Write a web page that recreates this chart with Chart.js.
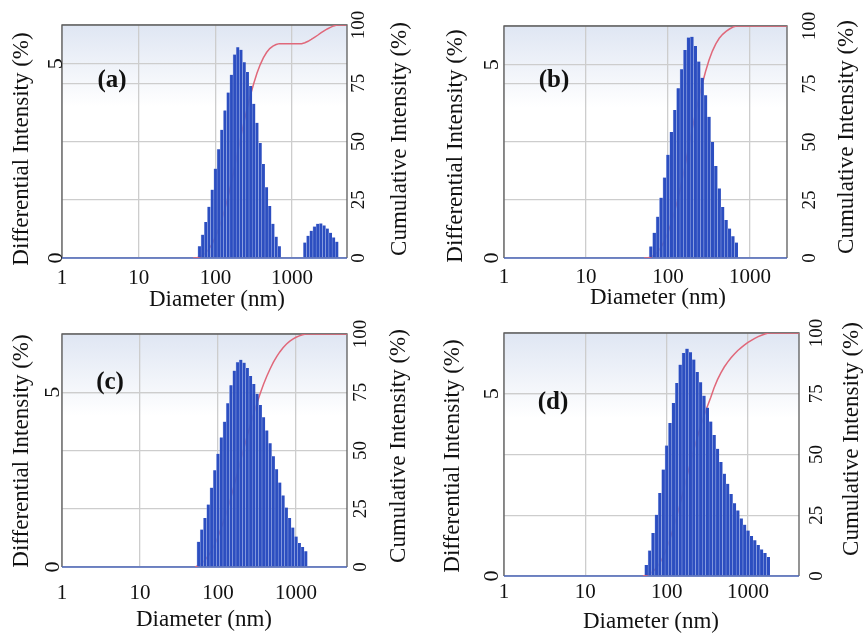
<!DOCTYPE html>
<html>
<head>
<meta charset="utf-8">
<title>Size distribution by intensity</title>
<script src="https://cdn.jsdelivr.net/npm/chart.js@4.4.1/dist/chart.umd.min.js"></script>
<style>
  html, body { margin: 0; padding: 0; background: #fff; }
  #wrap { position: relative; width: 863px; height: 637px; }
  #wrap canvas { position: absolute; left: 0; top: 0; }
</style>
</head>
<body>
<div id="wrap">
  <canvas id="chart-a" width="863" height="637"></canvas>
  <canvas id="chart-b" width="863" height="637"></canvas>
  <canvas id="chart-c" width="863" height="637"></canvas>
  <canvas id="chart-d" width="863" height="637"></canvas>
</div>
<script>
'use strict';

/** Data */

// size classes (nm), log spaced, 24 per decade
let diameters = [51.1, 56.2, 61.9, 68.1, 75.0, 82.5, 90.9, 100, 110.1, 121.2,
  133.4, 146.8, 161.6, 177.8, 195.7, 215.4, 237.1, 261.0, 287.3, 316.2,
  348.1, 383.1, 421.7, 464.2, 510.9, 562.3, 619.0, 681.3, 749.9, 825.4,
  908.5, 1000, 1101, 1212, 1334, 1468, 1616, 1778, 1957, 2154,
  2371, 2610, 2873, 3162, 3481, 3831, 4217, 4642, 5109];

// differential intensity (%)
let diffA = [0, 0, 0.30, 0.60, 0.93, 1.32, 1.76, 2.30, 2.80, 3.30,
  3.80, 4.26, 4.72, 5.24, 5.43, 5.36, 5.04, 4.79, 4.43, 3.97,
  3.48, 2.96, 2.42, 1.82, 1.34, 0.88, 0.55, 0.30, 0, 0,
  0, 0, 0, 0, 0, 0.40, 0.57, 0.70, 0.81, 0.88,
  0.89, 0.84, 0.76, 0.65, 0.53, 0.42, 0, 0, 0];
let diffB = [0, 0, 0.30, 0.65, 1.07, 1.56, 2.08, 2.67, 3.26, 3.83,
  4.39, 4.88, 5.38, 5.70, 5.72, 5.48, 5.08, 4.66, 4.21, 3.65,
  3.00, 2.38, 1.80, 1.32, 0.98, 0.76, 0.56, 0.40, 0, 0,
  0, 0, 0, 0, 0, 0, 0, 0, 0, 0,
  0, 0, 0, 0, 0, 0, 0, 0, 0];
let diffC = [0, 0.72, 1.07, 1.40, 1.79, 2.27, 2.77, 3.24, 3.71, 4.16,
  4.69, 5.20, 5.62, 5.86, 5.93, 5.85, 5.70, 5.47, 5.24, 4.96,
  4.64, 4.29, 3.91, 3.54, 3.17, 2.80, 2.42, 2.05, 1.70, 1.40,
  1.13, 0.87, 0.69, 0.57, 0.45, 0, 0, 0, 0, 0,
  0, 0, 0, 0, 0, 0, 0, 0, 0];
let diffD = [0, 0.30, 0.70, 1.18, 1.68, 2.28, 2.92, 3.58, 4.20, 4.75,
  5.30, 5.80, 6.12, 6.24, 6.14, 5.94, 5.60, 5.32, 4.95, 4.62,
  4.24, 3.87, 3.49, 3.13, 2.81, 2.53, 2.25, 2.00, 1.80, 1.58,
  1.41, 1.25, 1.10, 0.98, 0.85, 0.73, 0.63, 0.52, 0, 0,
  0, 0, 0, 0, 0, 0, 0, 0, 0];

// cumulative intensity (%)
let cumA = [0, 0, 0.4, 1.1, 2.3, 3.9, 6.1, 9.0, 12.4, 16.5,
  21.2, 26.5, 32.4, 38.9, 45.6, 52.3, 58.6, 64.5, 70.0, 74.9,
  79.3, 82.9, 85.9, 88.2, 89.9, 90.9, 91.6, 92.0, 92.0, 92.0,
  92.0, 92.0, 92.0, 92.0, 92.0, 92.4, 93.0, 93.8, 94.7, 95.6,
  96.6, 97.5, 98.3, 99.0, 99.6, 100, 100, 100, 100];
let cumB = [0, 0, 0.4, 1.3, 2.7, 4.7, 7.5, 11.0, 15.3, 20.4,
  26.1, 32.6, 39.7, 47.2, 54.8, 62.0, 68.7, 74.8, 80.4, 85.2,
  89.2, 92.3, 94.7, 96.4, 97.7, 98.7, 99.5, 100, 100, 100,
  100, 100, 100, 100, 100, 100, 100, 100, 100, 100,
  100, 100, 100, 100, 100, 100, 100, 100, 100];
let cumC = [0, 0.7, 1.6, 3.0, 4.8, 7.0, 9.8, 13.0, 16.8, 20.8,
  25.2, 30.0, 35.2, 40.5, 45.9, 51.2, 56.3, 61.2, 65.9, 70.4,
  74.6, 78.4, 81.9, 85.0, 87.8, 90.2, 92.3, 94.1, 95.6, 96.8,
  97.8, 98.6, 99.2, 99.7, 100, 100, 100, 100, 100, 100,
  100, 100, 100, 100, 100, 100, 100, 100, 100];
let cumD = [0, 0.3, 0.9, 1.9, 3.4, 5.4, 8.0, 11.4, 15.3, 19.8,
  24.6, 29.9, 35.4, 41.0, 46.5, 51.8, 56.8, 61.5, 65.8, 69.8,
  73.5, 77.5, 80.8, 83.6, 86.0, 88.0, 89.8, 91.4, 92.8, 94.0,
  95.1, 96.1, 97.0, 97.8, 98.5, 99.1, 99.6, 100, 100, 100,
  100, 100, 100, 100, 100, 100, 100, 100, 100];

// tick labels
let xTicks = [1, 10, 100, 1000];
let leftTicks = [0, 5];
let rightTicks = [0, 25, 50, 75, 100];

let xTitle = 'Diameter (nm)';
let leftTitle = 'Differential Intensity (%)';
let rightTitle = 'Cumulative Intensity (%)';

/** Layout (page pixels) */
let panels = [
  { canvas: 'chart-a', tag: '(a)', diff: diffA, cum: cumA, xMax: 5200, yMax: 6.0,
    area: { l: 62, t: 25, r: 347, b: 258 },
    xTickY: 278, xTitlePos: [217, 300], leftTickX: 56, leftTitlePos: [22, 149],
    rightTickX: 359, rightTitlePos: [400, 139], tagPos: [112, 81] },
  { canvas: 'chart-b', tag: '(b)', diff: diffB, cum: cumB, xMax: 2830, yMax: 6.0,
    area: { l: 504, t: 26, r: 787, b: 258 },
    xTickY: 277, xTitlePos: [658, 298], leftTickX: 492, leftTitlePos: [456, 146],
    rightTickX: 810, rightTitlePos: [847, 137], tagPos: [554, 81] },
  { canvas: 'chart-c', tag: '(c)', diff: diffC, cum: cumC, xMax: 4500, yMax: 6.67,
    area: { l: 62, t: 334, r: 347, b: 567 },
    xTickY: 593, xTitlePos: [204, 620], leftTickX: 53, leftTitlePos: [22, 451],
    rightTickX: 361, rightTitlePos: [399, 446], tagPos: [110, 383] },
  { canvas: 'chart-d', tag: '(d)', diff: diffD, cum: cumD, xMax: 4240, yMax: 6.67,
    area: { l: 504, t: 333, r: 799, b: 576 },
    xTickY: 592, xTitlePos: [651, 622], leftTickX: 492, leftTitlePos: [453, 456],
    rightTickX: 817, rightTitlePos: [852, 439], tagPos: [553, 403] }
];

const SERIF = '"Liberation Serif", "Times New Roman", serif';
const GRID = '#cdcdcd';

/** Helpers */
function toPoints(values) {
  return diameters.map((d, i) => ({ x: d, y: values[i] }));
}

function drawRotated(ctx, text, x, y, font) {
  ctx.save();
  ctx.translate(x, y);
  ctx.rotate(-Math.PI / 2);
  ctx.font = font;
  ctx.textAlign = 'center';
  ctx.textBaseline = 'middle';
  ctx.fillText(text, 0, 0);
  ctx.restore();
}

// background shading, frame and all axis text
function decorPlugin(p) {
  return {
    id: 'decor',
    beforeDraw(chart) {
      let ctx = chart.ctx;
      let a = chart.chartArea;
      let grad = ctx.createLinearGradient(0, a.top, 0, a.bottom);
      grad.addColorStop(0, '#dfe6f3');
      grad.addColorStop(0.35, '#ffffff');
      ctx.save();
      ctx.fillStyle = grad;
      ctx.fillRect(a.left, a.top, a.right - a.left, a.bottom - a.top);
      ctx.restore();
    },
    beforeDatasetsDraw(chart) {
      let ctx = chart.ctx;
      let a = chart.chartArea;
      ctx.save();
      ctx.strokeStyle = '#5c5c5c';
      ctx.lineWidth = 1.3;
      ctx.beginPath();
      ctx.moveTo(a.left, a.bottom);
      ctx.lineTo(a.left, a.top);
      ctx.lineTo(a.right, a.top);
      ctx.lineTo(a.right, a.bottom);
      ctx.stroke();
      ctx.strokeStyle = '#4a64b8';
      ctx.lineWidth = 1.6;
      ctx.beginPath();
      ctx.moveTo(a.left, a.bottom);
      ctx.lineTo(a.right, a.bottom);
      ctx.stroke();
      ctx.restore();
    },
    afterDraw(chart) {
      let ctx = chart.ctx;
      let sx = chart.scales.x;
      let sy = chart.scales.y;
      let sy2 = chart.scales.y2;
      ctx.save();
      ctx.fillStyle = '#111';
      ctx.textAlign = 'center';
      ctx.textBaseline = 'middle';

      ctx.font = '21px ' + SERIF;
      xTicks.forEach(v => ctx.fillText(String(v), sx.getPixelForValue(v), p.xTickY));

      ctx.font = '23px ' + SERIF;
      ctx.fillText(xTitle, p.xTitlePos[0], p.xTitlePos[1]);

      leftTicks.forEach(v => drawRotated(ctx, String(v), p.leftTickX, sy.getPixelForValue(v), '22px ' + SERIF));
      rightTicks.forEach(v => drawRotated(ctx, String(v), p.rightTickX, sy2.getPixelForValue(v), '19px ' + SERIF));

      drawRotated(ctx, leftTitle, p.leftTitlePos[0], p.leftTitlePos[1], '23px ' + SERIF);
      drawRotated(ctx, rightTitle, p.rightTitlePos[0], p.rightTitlePos[1], '23px ' + SERIF);

      ctx.font = 'bold 25px ' + SERIF;
      ctx.fillText(p.tag, p.tagPos[0], p.tagPos[1]);
      ctx.restore();
    }
  };
}

function renderPanel(p) {
  let ctx = document.getElementById(p.canvas);
  let chartObj = {
    type: 'bar',
    data: {
      datasets: [{
        type: 'bar',
        data: toPoints(p.diff),
        yAxisID: 'y',
        backgroundColor: '#2c4ec0',
        borderColor: 'rgba(150,172,232,0.85)',
        borderWidth: { left: 0.6, right: 0, top: 0, bottom: 0 },
        borderSkipped: false,
        barPercentage: 1,
        categoryPercentage: 1,
        order: 1
      },
      {
        type: 'line',
        data: toPoints(p.cum),
        yAxisID: 'y2',
        borderColor: '#e0687a',
        borderWidth: 1.5,
        pointRadius: 0,
        tension: 0,
        order: 2
      }]
    },
    options: {
      responsive: false,
      animation: false,
      events: [],
      layout: {
        padding: { left: p.area.l, top: p.area.t, right: 863 - p.area.r, bottom: 637 - p.area.b }
      },
      plugins: {
        legend: { display: false },
        tooltip: { enabled: false }
      },
      scales: {
        x: {
          type: 'logarithmic',
          min: 1,
          max: p.xMax,
          offset: false,
          afterBuildTicks: scale => { scale.ticks = xTicks.map(v => ({ value: v })); },
          grid: { color: GRID, lineWidth: 1.3, drawTicks: false, offset: false },
          border: { display: false },
          ticks: { display: false }
        },
        y: {
          position: 'left',
          min: 0,
          max: p.yMax,
          afterBuildTicks: scale => { scale.ticks = leftTicks.map(v => ({ value: v })); },
          grid: { color: GRID, lineWidth: 1.3, drawTicks: false },
          border: { display: false },
          ticks: { display: false }
        },
        y2: {
          position: 'right',
          min: 0,
          max: 100,
          afterBuildTicks: scale => { scale.ticks = rightTicks.map(v => ({ value: v })); },
          grid: { color: GRID, lineWidth: 1.3, drawTicks: false },
          border: { display: false },
          ticks: { display: false }
        }
      }
    },
    plugins: [decorPlugin(p)]
  };
  new Chart(ctx, chartObj);
}

/** Executables */
panels.forEach(renderPanel);
</script>
</body>
</html>
